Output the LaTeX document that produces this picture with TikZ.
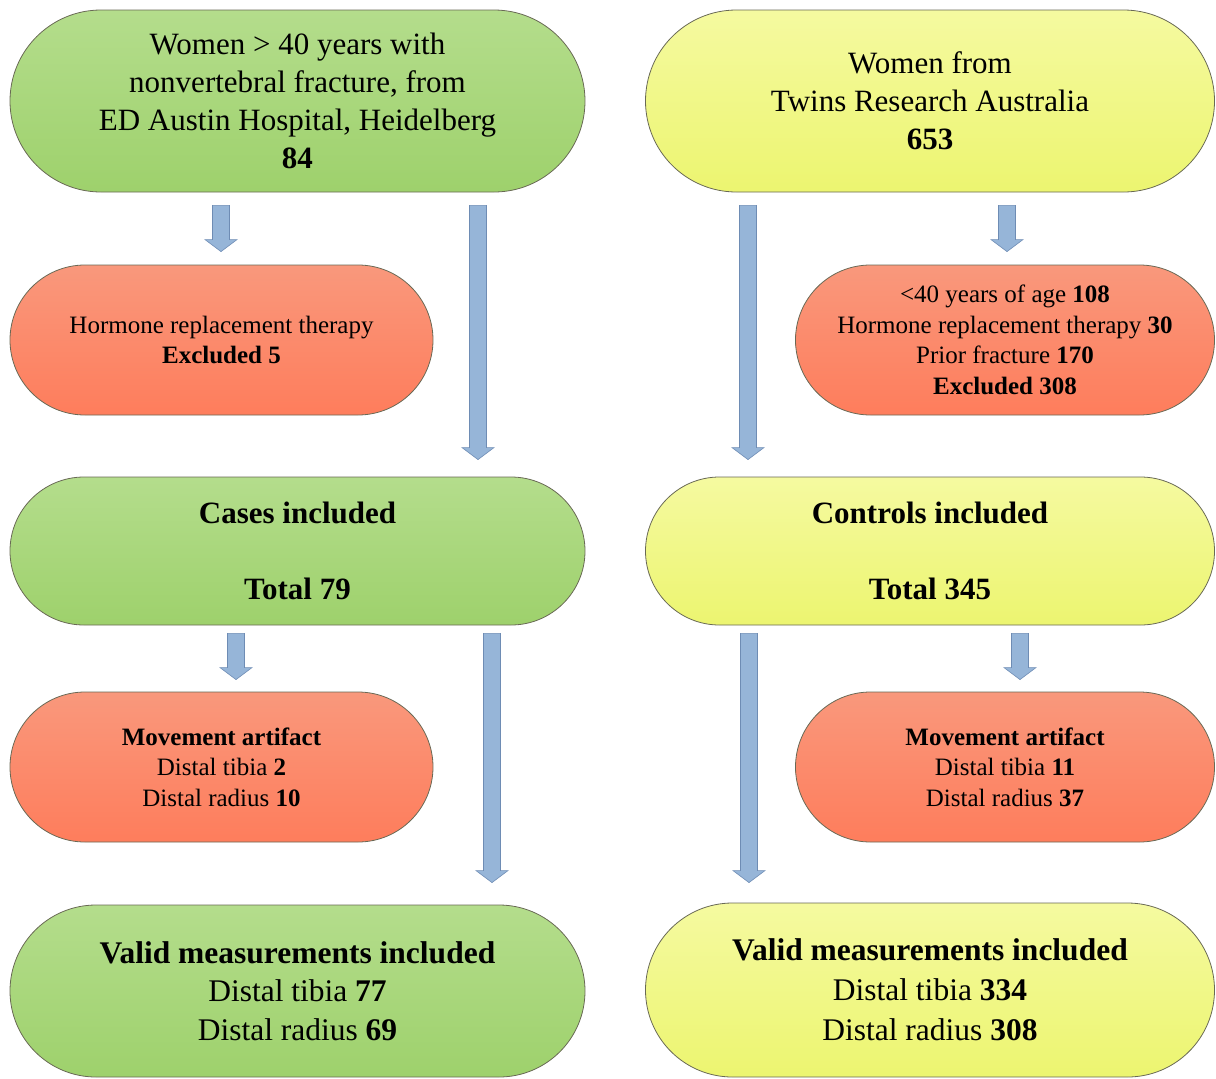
\documentclass[tikz,border=0pt]{standalone}
\usepackage{fontspec}
\setmainfont{Liberation Serif}
\usetikzlibrary{calc}
\definecolor{gtop}{RGB}{180,221,140}
\definecolor{gbot}{RGB}{158,209,108}
\definecolor{ytop}{RGB}{245,250,160}
\definecolor{ybot}{RGB}{236,245,112}
\definecolor{rtop}{RGB}{249,152,124}
\definecolor{rbot}{RGB}{254,125,92}
\definecolor{arrfill}{RGB}{150,181,216}
\definecolor{arrdraw}{RGB}{110,140,180}
\definecolor{bord}{RGB}{105,105,85}
\tikzset{
  box/.style={draw=bord, line width=0.8pt, inner sep=0pt, align=center, text=black},
  greenbox/.style={box, top color=gtop, bottom color=gbot},
  yellowbox/.style={box, top color=ytop, bottom color=ybot},
  redbox/.style={box, top color=rtop, bottom color=rbot},
  barrow/.style={fill=arrfill, draw=arrdraw, line width=0.6pt, line join=miter},
  bigtxt/.style={font=\fontsize{31}{38}\selectfont},
  smalltxt/.style={font=\fontsize{25}{30.5}\selectfont},
}
\newcommand{\blockarr}[2]{%
  \path[barrow] let \p1=#1, \p2=#2 in
    (\x1-8.5pt,\y1) -- (\x1+8.5pt,\y1) -- (\x1+8.5pt,\y2+12pt) -- (\x1+16pt,\y2+12pt)
    -- (\x1,\y2) -- (\x1-16pt,\y2+12pt) -- (\x1-8.5pt,\y2+12pt) -- cycle;}
\begin{document}
\begin{tikzpicture}[x=1pt,y=-1pt]
\useasboundingbox (0,0) rectangle (1216,1079);
% row 1
\node[greenbox, bigtxt, minimum width=575pt, minimum height=182pt, rounded corners=91pt] (g1) at (297.5,101)
  {Women > 40 years with\\nonvertebral fracture, from\\ED Austin Hospital, Heidelberg\\\textbf{84}};
\node[yellowbox, bigtxt, minimum width=569pt, minimum height=182pt, rounded corners=91pt] (y1) at (930,101)
  {Women from\\Twins Research Australia\\\textbf{653}};
% row 2
\node[redbox, smalltxt, minimum width=423pt, minimum height=150pt, rounded corners=75pt] (r1) at (221.5,340)
  {Hormone replacement therapy\\\textbf{Excluded 5}};
\node[redbox, smalltxt, minimum width=419pt, minimum height=150pt, rounded corners=75pt] (r2) at (1005,340)
  {<40 years of age \textbf{108}\\Hormone replacement therapy \textbf{30}\\Prior fracture \textbf{170}\\\textbf{Excluded 308}};
% row 3
\node[greenbox, bigtxt, minimum width=575pt, minimum height=148pt, rounded corners=74pt] (cases) at (297.5,551)
  {\textbf{Cases included}\\[38pt]\textbf{Total 79}};
\node[yellowbox, bigtxt, minimum width=569pt, minimum height=148pt, rounded corners=74pt] (ctrl) at (930,551)
  {\textbf{Controls included}\\[38pt]\textbf{Total 345}};
% row 4
\node[redbox, smalltxt, minimum width=423pt, minimum height=150pt, rounded corners=75pt] (r3) at (221.5,767)
  {\textbf{Movement artifact}\\Distal tibia \textbf{2}\\Distal radius \textbf{10}};
\node[redbox, smalltxt, minimum width=419pt, minimum height=150pt, rounded corners=75pt] (r4) at (1005,767)
  {\textbf{Movement artifact}\\Distal tibia \textbf{11}\\Distal radius \textbf{37}};
% row 5
\node[greenbox, font=\fontsize{31.5}{38.5}\selectfont, minimum width=575pt, minimum height=172pt, rounded corners=86pt] (g3) at (297.5,991)
  {\textbf{Valid measurements included}\\Distal tibia \textbf{77}\\Distal radius \textbf{69}};
\node[yellowbox, font=\fontsize{31.5}{40}\selectfont, minimum width=569pt, minimum height=174pt, rounded corners=87pt] (y3) at (930,990)
  {\textbf{Valid measurements included}\\Distal tibia \textbf{334}\\Distal radius \textbf{308}};
% x positions of arrows
\coordinate (xa) at (221,0);
\coordinate (xb) at (478,0);
\coordinate (xc) at (748,0);
\coordinate (xd) at (1007,0);
\coordinate (xe) at (236,0);
\coordinate (xf) at (492,0);
\coordinate (xg) at (749,0);
\coordinate (xh) at (1020,0);
% arrows row 1
\blockarr{($(g1.south -| xa)+(0,13)$)}{($(r1.north -| xa)-(0,13)$)}
\blockarr{($(g1.south -| xb)+(0,13)$)}{($(cases.north -| xb)-(0,17)$)}
\blockarr{($(y1.south -| xc)+(0,13)$)}{($(ctrl.north -| xc)-(0,17)$)}
\blockarr{($(y1.south -| xd)+(0,13)$)}{($(r2.north -| xd)-(0,13)$)}
% arrows row 2
\blockarr{($(cases.south -| xe)+(0,8)$)}{($(r3.north -| xe)-(0,12)$)}
\blockarr{($(cases.south -| xf)+(0,8)$)}{($(g3.north -| xf)-(0,22)$)}
\blockarr{($(ctrl.south -| xg)+(0,8)$)}{($(y3.north -| xg)-(0,20)$)}
\blockarr{($(ctrl.south -| xh)+(0,8)$)}{($(r4.north -| xh)-(0,12)$)}
\end{tikzpicture}
\end{document}
